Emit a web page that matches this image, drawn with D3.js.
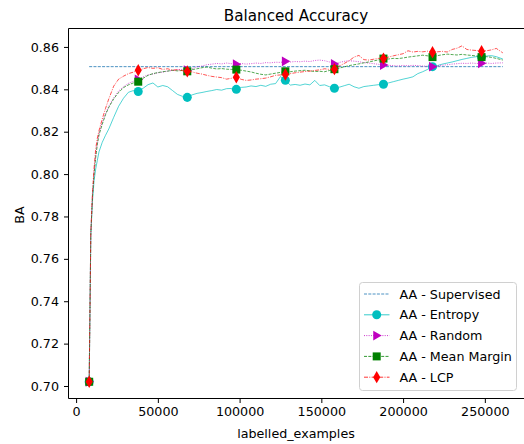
<!DOCTYPE html>
<meta charset="utf-8">
<style>
  body { margin: 0; background: #fff; }
  text { font-family: "DejaVu Sans", sans-serif; fill: #000; }
</style>
<svg width="524" height="444"></svg>
<script src="https://cdn.jsdelivr.net/npm/d3@7/dist/d3.min.js"></script>
<script>

var examples = [8000, 9000, 10000, 11000, 12000, 13000, 14000, 16000, 18000, 20000,
  23000, 26000, 29000, 32000, 35000, 38000, 41000, 44000, 47000, 50000,
  53000, 56000, 59000, 62000, 65000, 68000, 71000, 74000, 77000, 80000,
  83000, 86000, 89000, 92000, 95000, 98000, 101000, 104000, 107000, 110000,
  113000, 116000, 119000, 122000, 125000, 128000, 131000, 134000, 137000, 140000,
  143000, 146000, 149000, 152000, 155000, 158000, 161000, 164000, 167000, 170000,
  173000, 176000, 179000, 182000, 185000, 188000, 191000, 194000, 197000, 200000,
  203000, 206000, 209000, 212000, 215000, 218000, 221000, 224000, 227000, 230000,
  233000, 236000, 239000, 242000, 245000, 248000, 251000, 254000, 257000, 261000];

var markerAt = [8000, 38000, 68000, 98000, 128000, 158000, 188000, 218000, 248000];

var supervised = 0.8507;

var entropy = [0.702, 0.771, 0.787, 0.797, 0.8025, 0.8065, 0.8105, 0.8150, 0.8183, 0.8213,
  0.8268, 0.832, 0.8358, 0.8386, 0.8394, 0.8390, 0.8405, 0.8422, 0.8430, 0.8411,
  0.8418, 0.8412, 0.8394, 0.8376, 0.8367, 0.8362, 0.8374, 0.8381, 0.8385, 0.8390,
  0.8394, 0.8399, 0.8396, 0.8403, 0.8404, 0.8400, 0.8409, 0.8411, 0.8416, 0.8413,
  0.8419, 0.8414, 0.8424, 0.8427, 0.8460, 0.8443, 0.8420, 0.8423, 0.8419, 0.8425,
  0.8421, 0.8442, 0.8418, 0.8421, 0.8412, 0.8405, 0.8410, 0.8417, 0.8424, 0.8412,
  0.8405, 0.8413, 0.8416, 0.8419, 0.8422, 0.8424, 0.8430, 0.8436, 0.8442, 0.8448,
  0.8453, 0.8459, 0.8474, 0.8483, 0.8494, 0.8507, 0.8512, 0.8519, 0.8524, 0.8529,
  0.8535, 0.8541, 0.8546, 0.8551, 0.8554, 0.8552, 0.8557, 0.8559, 0.8554, 0.8543];

var random = [0.702, 0.772, 0.790, 0.801, 0.809, 0.815, 0.819, 0.8245, 0.8285, 0.832,
  0.836, 0.8392, 0.8412, 0.8428, 0.8438, 0.8446, 0.8458, 0.8468, 0.8472, 0.8478,
  0.8481, 0.8486, 0.8489, 0.8492, 0.8494, 0.8490, 0.8498, 0.8506, 0.8510, 0.8516,
  0.8519, 0.8522, 0.8520, 0.8524, 0.8521, 0.8518, 0.8522, 0.8519, 0.8521, 0.8524,
  0.8522, 0.8526, 0.8525, 0.8528, 0.8527, 0.8532, 0.8529, 0.8531, 0.8530, 0.8533,
  0.8531, 0.8536, 0.8538, 0.8535, 0.8529, 0.8520, 0.8527, 0.8532, 0.8535, 0.8533,
  0.8530, 0.8526, 0.8524, 0.8521, 0.8518, 0.8515, 0.8513, 0.8512, 0.8510, 0.8513,
  0.8511, 0.8513, 0.8512, 0.8510, 0.8509, 0.8507, 0.8511, 0.8514, 0.8516, 0.8519,
  0.8521, 0.8523, 0.8522, 0.8524, 0.8522, 0.8523, 0.8524, 0.8522, 0.8524, 0.8525];

var meanMargin = [0.702, 0.772, 0.789, 0.800, 0.808, 0.814, 0.8185, 0.8235, 0.828, 0.8315,
  0.8355, 0.8385, 0.8408, 0.8421, 0.8430, 0.8436, 0.8452, 0.8466, 0.8474, 0.8479,
  0.8483, 0.8486, 0.8490, 0.8487, 0.8489, 0.8485, 0.8493, 0.8497, 0.8502, 0.8505,
  0.8500, 0.8496, 0.8498, 0.8495, 0.8494, 0.8493, 0.8490, 0.8486, 0.8482, 0.8476,
  0.8471, 0.8468, 0.8472, 0.8476, 0.8480, 0.8485, 0.8483, 0.8486, 0.8488, 0.8490,
  0.8487, 0.8484, 0.8485, 0.8483, 0.8489, 0.8495, 0.8500, 0.8506, 0.8512, 0.8516,
  0.8520, 0.8525, 0.8529, 0.8534, 0.8539, 0.8545, 0.8543, 0.8546, 0.8545, 0.8548,
  0.8552, 0.8555, 0.8558, 0.8561, 0.8558, 0.8552, 0.8559, 0.8563, 0.8566, 0.8564,
  0.8562, 0.8565, 0.8562, 0.8560, 0.8557, 0.8552, 0.8554, 0.8551, 0.8546, 0.8538];

var lcp = [0.702, 0.772, 0.791, 0.803, 0.812, 0.817, 0.8205, 0.826, 0.831, 0.8355,
  0.8415, 0.8448, 0.8462, 0.8474, 0.8481, 0.8490, 0.8497, 0.8503, 0.8499, 0.8502,
  0.8494, 0.8497, 0.8490, 0.8493, 0.8488, 0.8485, 0.8482, 0.8476, 0.8472, 0.8466,
  0.8461, 0.8458, 0.8455, 0.8448, 0.8452, 0.8457, 0.8447, 0.8442, 0.8444, 0.8448,
  0.8450, 0.8453, 0.8459, 0.8466, 0.8468, 0.8470, 0.8474, 0.8478, 0.8481, 0.8484,
  0.8486, 0.8489, 0.8492, 0.8497, 0.8494, 0.8495, 0.8510, 0.8522, 0.8535, 0.8552,
  0.8560, 0.8540, 0.8538, 0.8542, 0.8546, 0.8545, 0.8552, 0.8558, 0.8563, 0.8568,
  0.8582, 0.8576, 0.8579, 0.8577, 0.8580, 0.8575, 0.8577, 0.8579, 0.8576, 0.8588,
  0.8594, 0.8605, 0.8588, 0.8585, 0.8583, 0.8580, 0.8582, 0.8586, 0.8593, 0.8572];

var xTicks = [0, 50000, 100000, 150000, 200000, 250000],
    yTicks = [0.70, 0.72, 0.74, 0.76, 0.78, 0.80, 0.82, 0.84, 0.86];

var svg = d3.select("svg"),
    plotLeft = 68.5, plotRight = 523.5, plotTop = 28.5, plotBottom = 398.5,
    fontSize = 12.7;

var x = d3.scaleLinear()
    .domain([-4650, 273650])
    .range([plotLeft, plotRight]);

var y = d3.scaleLinear()
    .domain([0.6941, 0.8687])
    .range([plotBottom, plotTop]);

var triangleRight = {
  draw: function(ctx, size) {
    var r = Math.sqrt(size) * 0.62;
    ctx.moveTo(r, 0);
    ctx.lineTo(-r * 0.7, -r);
    ctx.lineTo(-r * 0.7, r);
    ctx.closePath();
  }
};

var series = [
  {name: "AA - Entropy", values: entropy, color: "#00bfbf", dash: null, symbol: d3.symbolCircle, size: 64},
  {name: "AA - Random", values: random, color: "#bf00bf", dash: "1,1.3", symbol: triangleRight, size: 64},
  {name: "AA - Mean Margin", values: meanMargin, color: "#008000", dash: "3,1.3", symbol: d3.symbolSquare, size: 64},
  {name: "AA - LCP", values: lcp, color: "#ff0000", dash: "4,1.3,1,1.3", symbol: d3.symbolDiamond, size: 44}
];

var line = d3.line()
    .x(function(d) { return x(d[0]); })
    .y(function(d) { return y(d[1]); });

// axes
svg.append("g")
    .attr("transform", "translate(0," + plotBottom + ")")
    .call(d3.axisBottom(x).tickValues(xTicks).tickFormat(d3.format("d")).tickSize(4.5).tickPadding(3.5))
    .call(function(g) {
      g.select(".domain").remove();
      g.selectAll("text").attr("font-size", fontSize).attr("font-family", "DejaVu Sans");
    });

svg.append("g")
    .attr("transform", "translate(" + plotLeft + ",0)")
    .call(d3.axisLeft(y).tickValues(yTicks).tickFormat(d3.format(".2f")).tickSize(4.5).tickPadding(5))
    .call(function(g) {
      g.select(".domain").remove();
      g.selectAll("text").attr("font-size", fontSize).attr("font-family", "DejaVu Sans");
    });

// supervised reference
svg.append("path")
    .datum([[examples[0], supervised], [examples[examples.length - 1], supervised]])
    .attr("fill", "none")
    .attr("stroke", "#1f77b4")
    .attr("stroke-width", 0.8)
    .attr("stroke-dasharray", "3,1.3")
    .attr("d", line);

series.forEach(function(s) {
  var pts = examples.map(function(e, i) { return [e, s.values[i]]; });

  svg.append("path")
      .datum(pts)
      .attr("fill", "none")
      .attr("stroke", s.color)
      .attr("stroke-width", 0.8)
      .attr("stroke-opacity", 0.85)
      .attr("stroke-dasharray", s.dash)
      .attr("d", line);

  svg.selectAll(null)
      .data(pts.filter(function(d) { return markerAt.indexOf(d[0]) >= 0; }))
    .enter().append("path")
      .attr("transform", function(d) { return "translate(" + x(d[0]) + "," + y(d[1]) + ")"; })
      .attr("fill", s.color)
      .attr("d", d3.symbol().type(s.symbol).size(s.size));
});

// frame (right spine falls at the edge)
svg.append("path")
    .attr("fill", "none")
    .attr("stroke", "#000")
    .attr("stroke-width", 1)
    .attr("d", "M" + (plotRight + 1) + "," + plotTop + "H" + plotLeft + "V" + plotBottom + "H" + (plotRight + 1));

svg.append("text")
    .attr("x", (plotLeft + plotRight) / 2)
    .attr("y", 20.5)
    .attr("text-anchor", "middle")
    .attr("font-size", 15.2)
    .text("Balanced Accuracy");

svg.append("text")
    .attr("x", (plotLeft + plotRight) / 2)
    .attr("y", 438)
    .attr("text-anchor", "middle")
    .attr("font-size", fontSize)
    .text("labelled_examples");

svg.append("text")
    .attr("transform", "translate(23.5,215) rotate(-90)")
    .attr("text-anchor", "middle")
    .attr("font-size", fontSize)
    .text("BA");

// legend
var legend = svg.append("g");

legend.append("rect")
    .attr("x", 359.5)
    .attr("y", 282.5)
    .attr("width", 157)
    .attr("height", 108)
    .attr("rx", 3)
    .attr("fill", "#fff")
    .attr("fill-opacity", 0.8)
    .attr("stroke", "#d0d0d0");

var entries = [{name: "AA - Supervised", color: "#1f77b4", dash: "3,1.3", symbol: null}].concat(series);

entries.forEach(function(s, i) {
  var ly = 294 + i * 20.8;
  legend.append("line")
      .attr("x1", 364).attr("x2", 389.5)
      .attr("y1", ly).attr("y2", ly)
      .attr("stroke", s.color)
      .attr("stroke-width", 0.8)
      .attr("stroke-dasharray", s.dash);
  if (s.symbol) {
    legend.append("path")
        .attr("transform", "translate(376.7," + ly + ")")
        .attr("fill", s.color)
        .attr("d", d3.symbol().type(s.symbol).size(s.size));
  }
  legend.append("text")
      .attr("x", 399.5)
      .attr("y", ly + 4.6)
      .attr("font-size", fontSize)
      .text(s.name);
});

</script>
